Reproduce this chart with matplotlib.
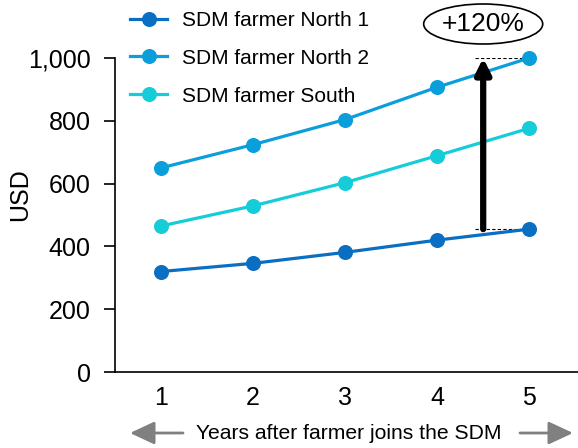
import matplotlib
matplotlib.use("Agg")
import matplotlib.pyplot as plt
from matplotlib.patches import Ellipse, FancyArrowPatch

plt.rcParams['font.family'] = ['Liberation Sans', 'DejaVu Sans']

years = [1, 2, 3, 4, 5]
north1 = [320, 346, 381, 420, 455]
north2 = [650, 724, 804, 907, 1000]
south = [465, 529, 603, 689, 776]
series_names = ["SDM farmer North 1", "SDM farmer North 2", "SDM farmer South"]
colors = ["#0A6FC2", "#0A9FDA", "#15CDD8"]
growth_label = "+120%"
yticks = [0, 200, 400, 600, 800, 1000]

W, H = 578, 448
fig = plt.figure(figsize=(W / 100, H / 100), dpi=100)
ax = fig.add_axes([115 / W, 1 - 372 / H, 1 - 115 / W, (372 - 58) / H])

for vals, name, c in zip([north1, north2, south], series_names, colors):
    ax.plot(years, vals, color=c, lw=2.3, marker="o", ms=9.8, label=name,
            clip_on=False, zorder=3)

ax.set_xlim(0.5, 5.53)
ax.set_ylim(0, 1000)
ax.set_yticks(yticks)
ax.set_yticklabels([f"{v:,}" for v in yticks])
ax.set_xticks(years)
ax.tick_params(axis="x", length=0, pad=10, labelsize=18)
ax.tick_params(axis="y", length=8, width=1.2, direction="out", pad=9.5, labelsize=18)
ax.spines["top"].set_visible(False)
ax.spines["right"].set_visible(False)
ax.spines["left"].set_linewidth(1.2)
ax.spines["bottom"].set_linewidth(1.2)
ax.set_ylabel("USD", fontsize=18)
ax.yaxis.set_label_coords(-0.178, 0.564)

# growth arrow between year-5 values
x_arrow = 4.5
ax.plot([4.41, 5], [north2[-1], north2[-1]], ls=(0, (3, 2)), color="black", lw=0.8, zorder=2)
ax.plot([4.41, 5], [north1[-1], north1[-1]], ls=(0, (3, 2)), color="black", lw=0.8, zorder=2)
ax.annotate("", xy=(x_arrow, north2[-1]), xytext=(x_arrow, north1[-1]),
            arrowprops=dict(arrowstyle="-|>,head_length=0.9,head_width=0.45",
                            lw=4.5, color="black", shrinkA=0, shrinkB=0),
            zorder=4)
ell_y = (372 - 24) / 314 * 1000
ell = Ellipse((x_arrow, ell_y), width=119 / 92, height=40 / 314 * 1000,
              facecolor="white", edgecolor="black", lw=1.2, clip_on=False,
              zorder=5)
ax.add_patch(ell)
ax.text(x_arrow, ell_y, growth_label, ha="center", va="center", fontsize=19,
        zorder=6, clip_on=False)

leg = ax.legend(loc="upper left", bbox_to_anchor=(130 / W, 1 - 11 / H),
                bbox_transform=fig.transFigure, frameon=False,
                fontsize=15, handlelength=1.78, handletextpad=0.72,
                labelspacing=0.9, borderaxespad=0, borderpad=0)

# x-axis caption with arrows on both sides
fig.text(349 / W, 1 - 433 / H, "Years after farmer joins the SDM",
         ha="center", va="center", fontsize=15.2)
for tail, tip in [((183, 433), (130, 433)), ((520, 433), (573, 433))]:
    fig.patches.append(FancyArrowPatch(
        (tail[0] / W, 1 - tail[1] / H), (tip[0] / W, 1 - tip[1] / H),
        transform=fig.transFigure,
        arrowstyle="-|>,head_length=15,head_width=7",
        color="#808080", lw=2, mutation_scale=1, shrinkA=0, shrinkB=0))

fig.savefig("out.png", dpi=100)
